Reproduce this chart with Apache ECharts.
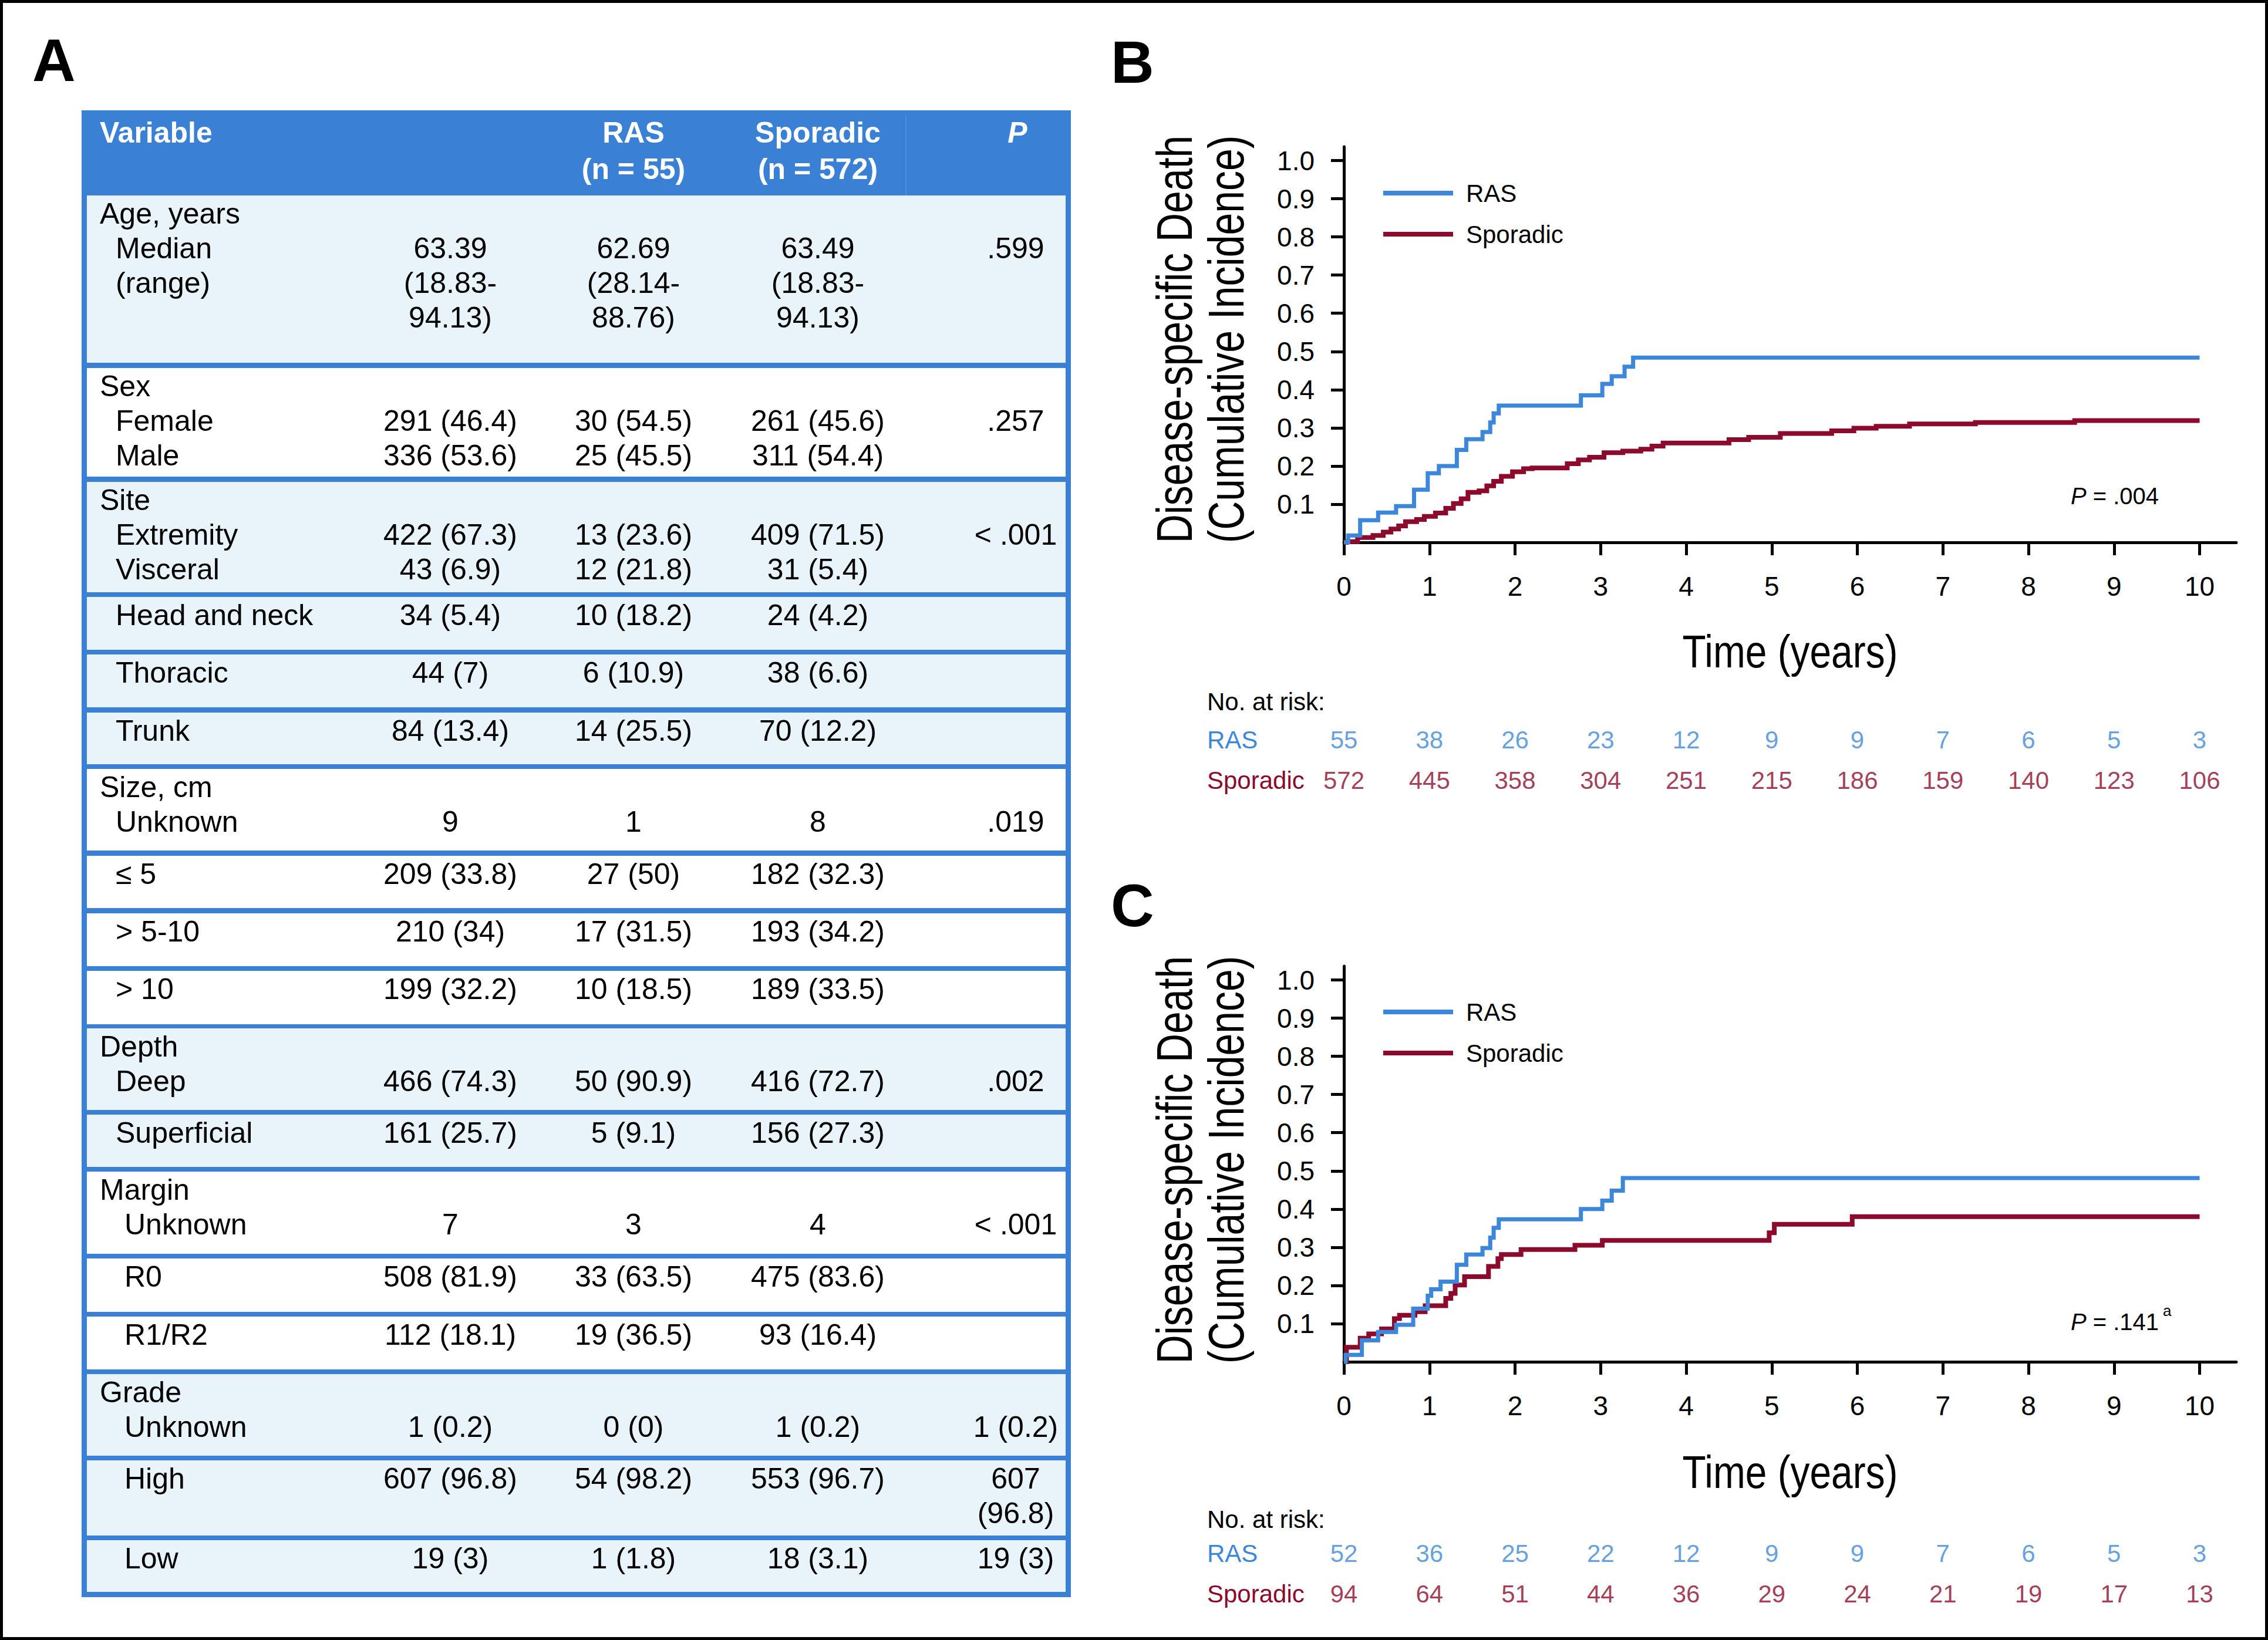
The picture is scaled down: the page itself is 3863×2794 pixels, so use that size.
<!DOCTYPE html>
<html><head><meta charset="utf-8">
<script src="https://cdn.jsdelivr.net/npm/echarts@6/dist/echarts.min.js"></script>
<style>html,body{margin:0;padding:0;background:#fff}#c{width:3863px;height:2794px}</style>
</head><body><div id="c"></div><script>
// ---------------- DATA ----------------
const tableHeader = ['Variable', '', 'RAS\n(n = 55)', 'Sporadic\n(n = 572)', 'P'];
const rowHeadings = ['Age, years','Sex','Site','','','','Size, cm','','','','Depth','','Margin','','','Grade','',''];
const rowLabels = ['Median\n(range)','Female\nMale','Extremity\nVisceral','Head and neck','Thoracic','Trunk','Unknown','\u2264 5','> 5-10','> 10','Deep','Superficial','Unknown','R0','R1/R2','Unknown','High','Low'];
const allValues = ['63.39\n(18.83-\n94.13)','291 (46.4)\n336 (53.6)','422 (67.3)\n43 (6.9)','34 (5.4)','44 (7)','84 (13.4)','9','209 (33.8)','210 (34)','199 (32.2)','466 (74.3)','161 (25.7)','7','508 (81.9)','112 (18.1)','1 (0.2)','607 (96.8)','19 (3)'];
const rasValues = ['62.69\n(28.14-\n88.76)','30 (54.5)\n25 (45.5)','13 (23.6)\n12 (21.8)','10 (18.2)','6 (10.9)','14 (25.5)','1','27 (50)','17 (31.5)','10 (18.5)','50 (90.9)','5 (9.1)','3','33 (63.5)','19 (36.5)','0 (0)','54 (98.2)','1 (1.8)'];
const sporadicValues = ['63.49\n(18.83-\n94.13)','261 (45.6)\n311 (54.4)','409 (71.5)\n31 (5.4)','24 (4.2)','38 (6.6)','70 (12.2)','8','182 (32.3)','193 (34.2)','189 (33.5)','416 (72.7)','156 (27.3)','4','475 (83.6)','93 (16.4)','1 (0.2)','553 (96.7)','18 (3.1)'];
const pValues = ['.599','.257','< .001','','','','.019','','','','.002','','< .001','','','1 (0.2)','607\n(96.8)','19 (3)'];

const yearTicks = [0,1,2,3,4,5,6,7,8,9,10];
const yTicks = [0.1,0.2,0.3,0.4,0.5,0.6,0.7,0.8,0.9,1.0];
const seriesNames = ['RAS','Sporadic'];
const yTitleLines = ['Disease-specific Death', '(Cumulative Incidence)'];
const xTitle = 'Time (years)';

// Panel B
const bRasT = [0,0.05,0.19,0.40,0.61,0.82,0.98,1.11,1.32,1.43,1.62,1.71,1.75,1.81,2.77,3.02,3.13,3.28,3.38,10];
const bRasV = [0,0.018,0.058,0.078,0.095,0.138,0.181,0.200,0.242,0.270,0.289,0.314,0.338,0.358,0.385,0.415,0.435,0.460,0.484,0.484];
const bSporT = [0,0.03,0.16,0.34,0.46,0.55,0.64,0.72,0.85,0.94,1.07,1.19,1.28,1.37,1.45,1.58,1.67,1.75,1.84,1.97,2.10,2.20,2.61,2.74,2.87,3.04,3.26,3.47,3.60,3.73,4.50,4.73,5.10,5.70,5.96,6.22,6.61,7.38,8.54,10];
const bSporV = [0,0.002,0.0125,0.018,0.027,0.035,0.043,0.054,0.060,0.068,0.077,0.089,0.102,0.114,0.131,0.135,0.148,0.160,0.173,0.185,0.193,0.195,0.206,0.216,0.223,0.235,0.239,0.244,0.252,0.260,0.269,0.275,0.285,0.292,0.299,0.304,0.310,0.314,0.319,0.319];
const bRiskRAS = [55,38,26,23,12,9,9,7,6,5,3];
const bRiskSpor = [572,445,358,304,251,215,186,159,140,123,106];

// Panel C
const cRasT = [0,0.02,0.21,0.40,0.61,0.81,0.98,1.02,1.13,1.32,1.43,1.62,1.71,1.75,1.81,2.77,3.02,3.13,3.26,10];
const cRasV = [0,0.018,0.056,0.078,0.097,0.139,0.173,0.190,0.210,0.254,0.281,0.298,0.325,0.351,0.373,0.400,0.422,0.448,0.481,0.481];
const cSporT = [0,0.03,0.19,0.29,0.44,0.59,0.65,0.83,0.95,1.19,1.25,1.30,1.41,1.69,1.80,1.84,2.07,2.70,3.02,4.97,5.03,5.94,10];
const cSporV = [0,0.038,0.062,0.073,0.086,0.113,0.122,0.131,0.147,0.166,0.179,0.201,0.223,0.250,0.270,0.281,0.294,0.305,0.318,0.338,0.360,0.380,0.380];
const cRiskRAS = [52,36,25,22,12,9,9,7,6,5,3];
const cRiskSpor = [94,64,51,44,36,29,24,21,19,17,13];

// ---------------- STYLE / LAYOUT ----------------
const BLUE = '#3a80d5', LIGHT = '#e8f3fa', LINE_BLUE = '#3c87d9', RED = '#8c0a2c';
const SANS = "'Liberation Sans', Arial, sans-serif";
const bandTop = [333,627,821,1017,1115,1214,1310,1458,1556,1654,1752,1899,1996,2144,2243,2341,2488,2624];
const bandBot = [618,812,1009,1107,1205,1302,1449,1547,1646,1745,1891,1988,2136,2235,2333,2480,2616,2712];
const bandLight = [1,0,1,1,1,1,0,0,0,0,1,1,0,0,0,1,1,1];
const labelIndent = [197,197,197,197,197,197,197,197,197,197,197,197,212,212,212,212,212,212];
const colX = [767,1079,1393,1730];
const LINE_H = 59, FIRST = 31, TFONT = 50;

const zip = (t, v) => t.map((x, i) => [x, v[i]]);

function tableGraphics() {
  const g = [];
  g.push({type:'rect', shape:{x:139,y:188,width:1685,height:2533}, style:{fill:BLUE}});
  g.push({type:'rect', shape:{x:1542,y:196,width:2,height:137}, style:{fill:'#4d8fdc'}});
  g.push({type:'text', x:170, y:226, style:{text:tableHeader[0], fill:'#fff', font:'bold '+TFONT+'px '+SANS, verticalAlign:'middle'}});
  [2,3].forEach(k => g.push({type:'text', x:colX[k-1], y:226-31, style:{text:tableHeader[k], fill:'#fff', font:'bold '+TFONT+'px '+SANS, align:'center', verticalAlign:'top', lineHeight:62}}));
  g.push({type:'text', x:1733, y:226, style:{text:tableHeader[4], fill:'#fff', font:'italic bold '+TFONT+'px '+SANS, align:'center', verticalAlign:'middle'}});
  for (let i = 0; i < bandTop.length; i++) {
    const top = bandTop[i];
    g.push({type:'rect', shape:{x:148,y:top,width:1667,height:bandBot[i]-top}, style:{fill: bandLight[i] ? LIGHT : '#fff'}});
    let line = 0;
    if (rowHeadings[i]) {
      g.push({type:'text', x:170, y:top+FIRST-LINE_H/2, style:{text:rowHeadings[i], fill:'#000', font:TFONT+'px '+SANS, verticalAlign:'top', lineHeight:LINE_H}});
      line = 1;
    }
    const y0 = top + FIRST + LINE_H*line - LINE_H/2;
    g.push({type:'text', x:labelIndent[i], y:y0, style:{text:rowLabels[i], fill:'#000', font:TFONT+'px '+SANS, verticalAlign:'top', lineHeight:LINE_H}});
    [allValues[i], rasValues[i], sporadicValues[i], pValues[i]].forEach((t, k) => {
      if (!t) return;
      g.push({type:'text', x:colX[k], y:y0, style:{text:t, fill:'#000', font:TFONT+'px '+SANS, align:'center', verticalAlign:'top', lineHeight:LINE_H}});
    });
  }
  return g;
}

// condensed axis titles (the figure uses a condensed face): scaled real text
function titleGraphics(yCenter, xTitleY) {
  return [
    {type:'text', x:2000, y:yCenter, rotation:Math.PI/2, scaleX:0.79,
     style:{text:yTitleLines[0], font:'86px '+SANS, fill:'#000', align:'center', verticalAlign:'middle'}},
    {type:'text', x:2088, y:yCenter, rotation:Math.PI/2, scaleX:0.79,
     style:{text:yTitleLines[1], font:'86px '+SANS, fill:'#000', align:'center', verticalAlign:'middle'}},
    {type:'text', x:3049, y:xTitleY, scaleX:0.855,
     style:{text:xTitle, font:'77px '+SANS, fill:'#000', align:'center', verticalAlign:'middle'}}
  ];
}

function plotGrids(top, riskTop) {
  return [
    {left:2289, top:top, width:1520, height:674},
    {left:2289, top:riskTop, width:1520, height:138}
  ];
}

const XMAX = 1520/145.75, YMAX = 674/650.5;

function xAxes(gi) {
  return [
    {type:'value', gridIndex:gi, min:0, max:XMAX, interval:1,
     axisLine:{lineStyle:{color:'#000', width:5}},
     axisTick:{length:22, lineStyle:{color:'#000', width:5}, customValues:yearTicks},
     axisLabel:{margin:52, fontFamily:SANS, fontSize:46, color:'#000', customValues:yearTicks},
     splitLine:{show:false}},
    {type:'value', gridIndex:gi+1, min:0, max:XMAX, show:false, splitLine:{show:false}}
  ];
}
function yAxes(gi) {
  return [
    {type:'value', gridIndex:gi, min:0, max:YMAX, interval:0.1,
     axisLine:{show:true, lineStyle:{color:'#000', width:5}},
     axisTick:{show:true, length:22, lineStyle:{color:'#000', width:5}, customValues:yTicks},
     axisLabel:{margin:50, fontFamily:SANS, fontSize:46, color:'#000', customValues:yTicks, formatter:v => v.toFixed(1)},
     splitLine:{show:false}},
    {type:'category', gridIndex:gi+1, inverse:true,
     data:[{value:seriesNames[0], textStyle:{color:LINE_BLUE, align:'left'}}, {value:seriesNames[1], textStyle:{color:RED, align:'left'}}],
     axisLine:{show:false}, axisTick:{show:false},
     axisLabel:{align:'left', margin:233, fontFamily:SANS, fontSize:42}}
  ];
}
function curve(name, data, xi, color, w) {
  return {type:'line', name:name, xAxisIndex:xi, yAxisIndex:xi, data:data, step:'end', showSymbol:false, symbol:'none',
          lineStyle:{color:color, width:w, cap:'butt', join:'miter'}, itemStyle:{color:color}, silent:true, animation:false};
}
function risk(name, counts, xi, color) {
  return {type:'scatter', name:name+' risk', xAxisIndex:xi, yAxisIndex:xi, symbolSize:1,
          itemStyle:{color:'rgba(0,0,0,0)'}, silent:true, animation:false,
          data: yearTicks.map((t, i) => [t, name, counts[i]]),
          label:{show:true, position:'inside', formatter:p => String(p.value[2]), color:color, fontFamily:SANS, fontSize:42}};
}
function legend(top) {
  return {orient:'vertical', left:2351, top:top, icon:'rect', itemWidth:119, itemHeight:8, itemGap:28,
          data:seriesNames, selectedMode:false,
          textStyle:{fontFamily:SANS, fontSize:42, color:'#000', padding:[0,0,0,17]}};
}

const chart = echarts.init(document.getElementById('c'), null, {renderer:'svg', width:3863, height:2794});
chart.setOption({
  animation:false,
  textStyle:{fontFamily:SANS},
  grid:[...plotGrids(250,1226), ...plotGrids(1646,2612)],
  xAxis:[...xAxes(0), ...xAxes(2)],
  yAxis:[...yAxes(0), ...yAxes(2)],
  legend:[legend(303), legend(1698)],
  series:[
    curve('Sporadic', zip(bSporT,bSporV), 0, RED, 8),
    curve('RAS', zip(bRasT,bRasV), 0, LINE_BLUE, 7),
    risk('RAS', bRiskRAS, 1, LINE_BLUE),
    risk('Sporadic', bRiskSpor, 1, RED),
    curve('Sporadic', zip(cSporT,cSporV), 2, RED, 8),
    curve('RAS', zip(cRasT,cRasV), 2, LINE_BLUE, 7),
    risk('RAS', cRiskRAS, 3, LINE_BLUE),
    risk('Sporadic', cRiskSpor, 3, RED)
  ],
  graphic:[
    {type:'rect', shape:{x:0,y:0,width:3863,height:2794}, style:{fill:'none', stroke:'#000', lineWidth:10}, z:100},
    ...tableGraphics(),
    ...titleGraphics(578, 1110),
    ...titleGraphics(1976, 2508),
    {type:'text', x:55, y:103, style:{text:'A', font:'bold 102px '+SANS, fill:'#000', verticalAlign:'middle'}},
    {type:'text', x:1892, y:106, style:{text:'B', font:'bold 102px '+SANS, fill:'#000', verticalAlign:'middle'}},
    {type:'text', x:1892, y:1543, style:{text:'C', font:'bold 102px '+SANS, fill:'#000', verticalAlign:'middle'}},
    {type:'text', x:3527, y:845, style:{text:'{i|P} = .004', font:'40px '+SANS, fill:'#000', verticalAlign:'middle',
      rich:{i:{fontStyle:'italic', fontSize:40, fontFamily:SANS}}}},
    {type:'text', x:3527, y:2252, style:{text:'{i|P} = .141', font:'40px '+SANS, fill:'#000', verticalAlign:'middle',
      rich:{i:{fontStyle:'italic', fontSize:40, fontFamily:SANS}}}},
    {type:'text', x:3684, y:2233, style:{text:'a', font:'26px '+SANS, fill:'#000', verticalAlign:'middle'}},
    {type:'text', x:2056, y:1195, style:{text:'No. at risk:', font:'42px '+SANS, fill:'#000', verticalAlign:'middle'}},
    {type:'text', x:2056, y:2588, style:{text:'No. at risk:', font:'42px '+SANS, fill:'#000', verticalAlign:'middle'}}
  ]
});
</script></body></html>
